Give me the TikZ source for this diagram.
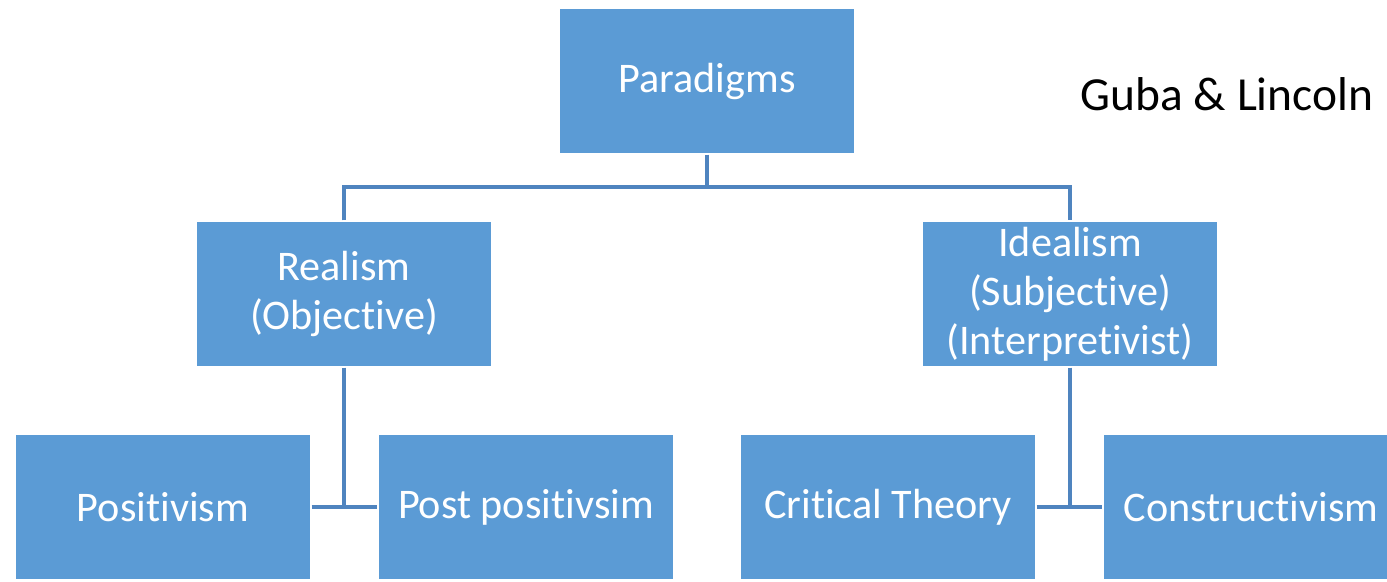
\documentclass[tikz,border=0pt]{standalone}
\usepackage{fontspec}
\setmainfont{Carlito}[RawFeature={-liga;-clig;-calt;-dlig}]
\usepackage{tikz}
\usetikzlibrary{calc}
\usepackage{xcolor}
\definecolor{boxblue}{HTML}{5B9BD5}
\definecolor{lineblue}{HTML}{4F84BF}

\tikzset{
	pbox/.style={rectangle,fill=boxblue,draw=white,line width=0.6pt,minimum width=5.92cm,minimum height=2.92cm,
		align=center,text=white,font=\fontsize{24}{28}\selectfont,inner sep=0pt},
	link/.style={draw=lineblue,line width=2pt}
}

\begin{document}
\begin{tikzpicture}
		\useasboundingbox (0,0) rectangle (27.74,11.62);
		\begin{scope}
		\clip (0,0) rectangle (27.74,11.62);
		% top level
		\node[pbox] (par) at (14.14,10.0) {Paradigms};
		\node[font=\fontsize{27}{32}\selectfont] (guba) at (24.54,9.74) {Guba \& Lincoln};
		% middle level
		\node[pbox] (real) at (6.88,5.74) {Realism\\(Objective)};
		\node[pbox] (ideal) at (21.4,5.74) {Idealism\\(Subjective)\\(Interpretivist)};
		% bottom level
		\node[pbox] (pos) at (3.26,1.48) {Positivism};
		\node[pbox] (post) at (10.52,1.48) {Post positivsim};
		\node[pbox] (crit) at (17.76,1.48) {Critical Theory};
		\node[pbox] (cons) at (25.02,1.48) {Constructivism};
		\coordinate (bus) at (14.14,7.88);
		\draw[link] (par.south) -- (bus);
		\draw[link] (real.north) |- (bus) -| (ideal.north);
		\draw[link] (real.south) -- (real.south |- pos.east);
		\draw[link] (pos.east) -- (post.west);
		\draw[link] (ideal.south) -- (ideal.south |- crit.east);
		\draw[link] (crit.east) -- (cons.west);
		\end{scope}
	\end{tikzpicture}
\end{document}
